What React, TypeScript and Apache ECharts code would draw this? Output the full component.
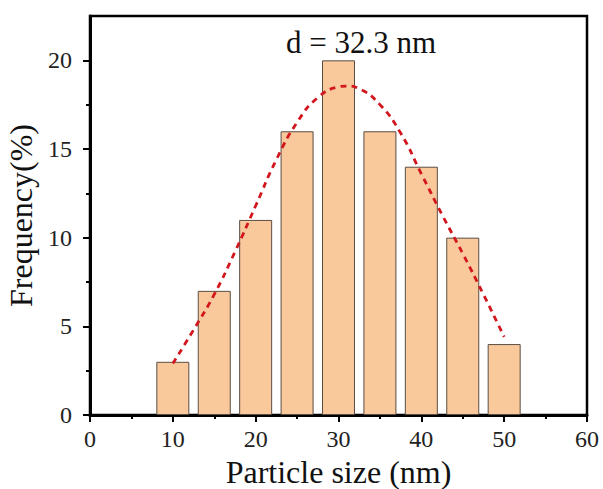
import React, { useEffect, useRef } from "react";
import * as echarts from "echarts";

const sizes = [10, 15, 20, 25, 30, 35, 40, 45, 50];
const freq = [3, 7, 11, 16, 20, 16, 14, 10, 4];
const fitX = [10, 12.5, 15, 17.5, 20, 22.5, 25, 27.5, 30, 31, 32.5, 35, 37.5, 40, 42.5, 45, 47.5, 50];
const fitY = [2.9, 4.8, 6.8, 9.2, 11.8, 14.4, 16.5, 17.9, 18.5, 18.55, 18.4, 17.5, 15.9, 13.6, 11.3, 9.1, 6.8, 4.4];
const xMajor = [0, 10, 20, 30, 40, 50, 60];
const xMinor = [5, 15, 25, 35, 45, 55];
const yMajor = [0, 5, 10, 15, 20];
const yMinor = [2.5, 7.5, 12.5, 17.5];
const annotation = "d = 32.3 nm";

const FONT = "'Liberation Serif', 'Times New Roman', serif";

export default function App() {
  const ref = useRef<HTMLDivElement>(null);
  useEffect(() => {
    const chart = echarts.init(ref.current!, null, { renderer: "svg" });
    const axisLine = { show: true, lineStyle: { color: "#000", width: 3 } };
    chart.setOption({
      animation: false,
      grid: {
        left: 90,
        right: 16,
        top: 16,
        bottom: 74,
        containLabel: false,
        outerBoundsMode: "none",
        show: true,
        borderColor: "#000",
        borderWidth: 2.5,
      },
      xAxis: [
        {
          type: "value",
          min: 0,
          max: 60,
          interval: 10,
          name: "Particle size (nm)",
          nameLocation: "middle",
          nameGap: 34,
          nameTextStyle: { fontFamily: FONT, fontSize: 32, color: "#111" },
          axisLine,
          axisTick: { show: true, length: 7, lineStyle: { color: "#000", width: 2 }, customValues: xMajor },
          axisLabel: { fontFamily: FONT, fontSize: 24, color: "#222", margin: 12, customValues: xMajor },
          splitLine: { show: false },
        },
        {
          type: "value",
          min: 0,
          max: 60,
          position: "bottom",
          offset: 0,
          axisLine: { show: false },
          axisTick: { show: true, length: 4, lineStyle: { color: "#000", width: 2 }, customValues: xMinor },
          axisLabel: { show: false },
          splitLine: { show: false },
        },
      ],
      yAxis: [
        {
          type: "value",
          min: 0,
          max: 22.5,
          name: "Frequency(%)",
          nameLocation: "middle",
          nameGap: 40,
          nameTextStyle: { fontFamily: FONT, fontSize: 32, color: "#111" },
          axisLine,
          axisTick: { show: true, length: 7, lineStyle: { color: "#000", width: 2 }, customValues: yMajor },
          axisLabel: { fontFamily: FONT, fontSize: 24, color: "#222", margin: 18, customValues: yMajor },
          splitLine: { show: false },
        },
        {
          type: "value",
          min: 0,
          max: 22.5,
          position: "left",
          offset: 0,
          axisLine: { show: false },
          axisTick: { show: true, length: 4, lineStyle: { color: "#000", width: 2 }, customValues: yMinor },
          axisLabel: { show: false },
          splitLine: { show: false },
        },
      ],
      series: [
        {
          type: "bar",
          data: sizes.map((s, i) => [s, freq[i]]),
          barWidth: 33,
          itemStyle: { color: "#F9C89B", borderColor: "#5a4d44", borderWidth: 1 },
        },
        {
          type: "line",
          data: fitX.map((x, i) => [x, fitY[i]]),
          smooth: true,
          symbol: "none",
          lineStyle: { color: "#D2161E", width: 2.8, type: [6, 5] },
        },
      ],
      graphic: [
        {
          type: "text",
          left: 286,
          top: 27,
          style: { text: annotation, fontFamily: FONT, fontSize: 31, fill: "#111" },
        },
      ],
    });
    return () => chart.dispose();
  }, []);
  return <div ref={ref} style={{ width: 603, height: 489, position: "absolute", left: 0, top: 0 }} />;
}
